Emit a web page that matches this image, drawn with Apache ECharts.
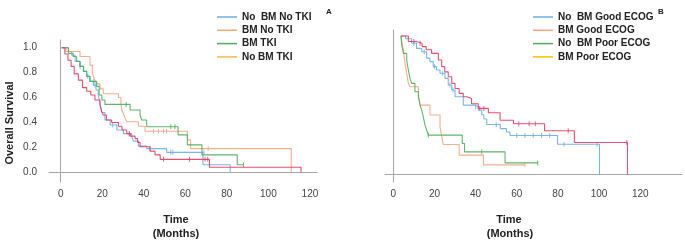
<!DOCTYPE html>
<html>
<head>
<meta charset="utf-8">
<script src="https://cdn.jsdelivr.net/npm/echarts@6/dist/echarts.min.js"></script>
<style>
html,body{margin:0;padding:0;background:#fff;}
#main{width:685px;height:245px;}
</style>
</head>
<body>
<div id="main"></div>
<script>
// ticks
var timeTicks=[0,20,40,60,80,100,120];
var survTicks=[0,0.2,0.4,0.6,0.8,1.0];

// panel A : [months, survival]
var aNoBmNoTki=[[0.5,1],[3.7,0.97],[5.3,0.94],[6.9,0.89],[9.3,0.85],[11,0.81],[12.5,0.77],[14,0.73],[15.7,0.70],[17,0.66],[18.1,0.62],[19,0.55],[19.8,0.48],[21.3,0.42],[23.8,0.38],[27,0.34],[30.2,0.31],[34.2,0.286],[35,0.25],[37.4,0.21],[41.4,0.19],[51,0.16],[68.5,0.06],[81.6,0]];
var aBmNoTki=[[0.5,1],[2.5,0.97],[9.3,0.93],[14.1,0.86],[15.2,0.81],[15.7,0.77],[16.5,0.74],[17.3,0.71],[18.9,0.67],[20.5,0.63],[27.8,0.6],[29,0.55],[29.4,0.5],[30.2,0.47],[31,0.435],[31.8,0.406],[37.4,0.37],[40.6,0.33],[61,0.26],[62.5,0.19],[111,0]];
var aBmTki=[[0.5,1],[3.7,0.955],[6,0.93],[7.7,0.89],[9.3,0.85],[10.9,0.81],[12.5,0.77],[14.1,0.73],[17.3,0.69],[18.5,0.62],[19.8,0.58],[21.3,0.545],[33.4,0.5],[38.2,0.46],[39,0.42],[41.4,0.365],[56.5,0.30],[61,0.22],[68,0.14],[85,0.06],[88,0.06]];
var aNoBmTki=[[0.5,1],[2,0.95],[3.5,0.9],[5,0.85],[6.5,0.79],[8.5,0.74],[10.5,0.68],[12.5,0.65],[14.5,0.62],[16.5,0.58],[18.9,0.54],[19.7,0.49],[20.5,0.46],[22,0.42],[24.5,0.40],[27.8,0.37],[29.5,0.34],[31.8,0.31],[33.5,0.29],[35.8,0.27],[37,0.24],[38.2,0.205],[43,0.17],[45.4,0.14],[47.9,0.104],[71.6,0.04],[115.7,0]];

var aNoBmNoTkiCens=[[9.3,0.85],[13,0.77],[16.5,0.70],[25,0.38],[33,0.31],[43,0.19],[53,0.16],[54,0.16],[69,0.16]];
var aBmNoTkiCens=[[44.6,0.33],[47,0.33],[49.5,0.33],[51,0.33],[71,0.19]];
var aBmTkiCens=[[16,0.73],[31.5,0.545],[53,0.365],[55,0.365],[88,0.06]];
var aNoBmTkiCens=[[33,0.31],[49.5,0.104],[62,0.104],[69.5,0.104],[70.8,0.104]];

// panel B : [months, survival]
var bNoBmGood=[[3.7,1],[6,0.98],[8.9,0.947],[11.3,0.91],[13.8,0.886],[16.2,0.84],[17.8,0.814],[19.4,0.778],[21,0.754],[22.7,0.73],[25.1,0.693],[26.7,0.645],[28.4,0.609],[30,0.56],[34,0.5],[39.5,0.488],[41.3,0.464],[43,0.43],[44,0.40],[45.4,0.36],[52,0.33],[55,0.305],[56.7,0.28],[79.8,0.217],[100.2,0]];
var bBmGood=[[3.7,1],[4.1,0.96],[4.9,0.9],[5.7,0.80],[6.5,0.73],[7.3,0.66],[8.1,0.633],[12.2,0.572],[13,0.5],[17.8,0.428],[22.7,0.343],[23.5,0.28],[24.3,0.215],[32,0.138],[43.8,0.068],[64,0.068]];
var bNoBmPoor=[[3.7,1],[4.2,0.923],[4.9,0.874],[6.5,0.826],[7.3,0.754],[8.1,0.693],[8.9,0.657],[10.5,0.597],[12.2,0.56],[13,0.5],[13.8,0.464],[14.6,0.415],[15.4,0.355],[16.2,0.32],[17,0.283],[33.5,0.222],[34.6,0.162],[54.3,0.082],[70.2,0.082]];
var bBmPoor=[[3.7,1],[7.3,0.96],[11,0.947],[14,0.923],[16,0.9],[18.6,0.874],[21.9,0.826],[23.5,0.778],[25,0.74],[26.7,0.705],[28.4,0.657],[30,0.62],[32,0.585],[34,0.56],[35.7,0.548],[38,0.51],[41.3,0.476],[46.2,0.445],[51.9,0.39],[58.4,0.365],[73.5,0.315],[88,0.23],[113.8,0]];

var bNoBmGoodCens=[[10,0.947],[15,0.886],[20,0.778],[24,0.73],[27.5,0.645],[29,0.609],[40,0.488],[50,0.36],[60,0.28],[64,0.28],[68,0.28],[72,0.28],[76,0.28],[83,0.217],[99,0.217]];
var bBmGoodCens=[[64,0.068]];
var bNoBmPoorCens=[[17,0.283],[43,0.162],[70.2,0.082]];
var bBmPoorCens=[[10,0.96],[13,0.947],[42,0.476],[44,0.476],[61,0.365],[66,0.365],[69,0.365],[85,0.315],[113.5,0.23]];

var FONT='"Liberation Sans", Arial, sans-serif';
var cBlue='#6aaee8',cSalmon='#f8a47e',cGreen='#4fae5a',cPink='#e63d64';

function kmLine(name,data,color,idx){
	return {type:'line',name:name,data:data,step:'end',symbol:'none',
		xAxisIndex:idx,yAxisIndex:idx,
		lineStyle:{color:color,width:1.1,opacity:0.9},itemStyle:{color:color},silent:true};
}
function cens(data,color,idx){
	return {type:'scatter',data:data,xAxisIndex:idx,yAxisIndex:idx,
		symbol:'rect',symbolSize:[1,5],itemStyle:{color:color},silent:true};
}
function xAx(idx,min,max){
	return {type:'value',gridIndex:idx,min:min,max:max,
		axisLine:{lineStyle:{color:'#a6a6a6',width:1}},
		axisTick:{show:false},splitLine:{show:false},
		axisLabel:{customValues:timeTicks,color:'#444',fontSize:10,fontFamily:FONT,margin:7}};
}

var myChart=echarts.init(document.getElementById('main'));
var option={
	animation:false,
	grid:[
		{left:49,top:40,width:268,height:142},
		{left:385,top:30,width:297,height:152}
	],
	xAxis:[xAx(0,-5.64,123.4),xAx(1,-4.04,140.3)],
	yAxis:[
		{type:'value',gridIndex:0,min:-0.078,max:1.062,
			axisLine:{show:true,lineStyle:{color:'#a6a6a6',width:1}},
			axisTick:{show:false},splitLine:{show:false},
			axisLabel:{customValues:survTicks,color:'#444',fontSize:10,fontFamily:FONT,margin:12,
				formatter:function(v){return v.toFixed(1);}}},
		{type:'value',gridIndex:1,min:-0.056,max:1.043,
			axisLine:{show:true,lineStyle:{color:'#a6a6a6',width:1}},
			axisTick:{show:false},splitLine:{show:false},axisLabel:{show:false}}
	],
	legend:[
		{orient:'vertical',left:212,top:6,itemWidth:20,itemHeight:1.5,icon:'rect',itemGap:1.3,
			textStyle:{fontSize:10,fontWeight:'bold',color:'#222',fontFamily:FONT,lineHeight:12},
			data:[{name:'No  BM No TKI'},{name:'BM No TKI'},{name:'BM TKI'},
				{name:'No BM TKI',itemStyle:{color:'#f7b84a'}}]},
		{orient:'vertical',left:528,top:6,itemWidth:20,itemHeight:1.5,icon:'rect',itemGap:1.3,
			textStyle:{fontSize:10,fontWeight:'bold',color:'#222',fontFamily:FONT,lineHeight:12},
			data:[{name:'No  BM Good ECOG'},{name:'BM Good ECOG'},{name:'No  BM Poor ECOG'},
				{name:'BM Poor ECOG',itemStyle:{color:'#f5c000'}}]}
	],
	graphic:[
		{type:'text',x:10,y:123,rotation:Math.PI/2,style:{text:'Overall Survival',font:'bold 11px '+FONT,fill:'#222',textAlign:'center',textVerticalAlign:'middle'}},
		{type:'text',x:176,y:220,style:{text:'Time',font:'bold 11px '+FONT,fill:'#222',textAlign:'center',textVerticalAlign:'middle'}},
		{type:'text',x:176,y:234,style:{text:'(Months)',font:'bold 11px '+FONT,fill:'#222',textAlign:'center',textVerticalAlign:'middle'}},
		{type:'text',x:509,y:220,style:{text:'Time',font:'bold 11px '+FONT,fill:'#222',textAlign:'center',textVerticalAlign:'middle'}},
		{type:'text',x:510,y:234,style:{text:'(Months)',font:'bold 11px '+FONT,fill:'#222',textAlign:'center',textVerticalAlign:'middle'}},
		{type:'text',x:329,y:12,style:{text:'A',font:'bold 8px '+FONT,fill:'#222',textAlign:'center',textVerticalAlign:'middle'}},
		{type:'text',x:661,y:12,style:{text:'B',font:'bold 8px '+FONT,fill:'#222',textAlign:'center',textVerticalAlign:'middle'}}
	],
	series:[
		kmLine('No  BM No TKI',aNoBmNoTki,cBlue,0),
		kmLine('BM No TKI',aBmNoTki,cSalmon,0),
		kmLine('BM TKI',aBmTki,cGreen,0),
		kmLine('No BM TKI',aNoBmTki,cPink,0),
		cens(aNoBmNoTkiCens,cBlue,0),
		cens(aBmNoTkiCens,cSalmon,0),
		cens(aBmTkiCens,cGreen,0),
		cens(aNoBmTkiCens,cPink,0),
		kmLine('No  BM Good ECOG',bNoBmGood,cBlue,1),
		kmLine('BM Good ECOG',bBmGood,cSalmon,1),
		kmLine('No  BM Poor ECOG',bNoBmPoor,cGreen,1),
		kmLine('BM Poor ECOG',bBmPoor,cPink,1),
		cens(bNoBmGoodCens,cBlue,1),
		cens(bBmGoodCens,cSalmon,1),
		cens(bNoBmPoorCens,cGreen,1),
		cens(bBmPoorCens,cPink,1)
	]
};
myChart.setOption(option);
</script>
</body>
</html>
